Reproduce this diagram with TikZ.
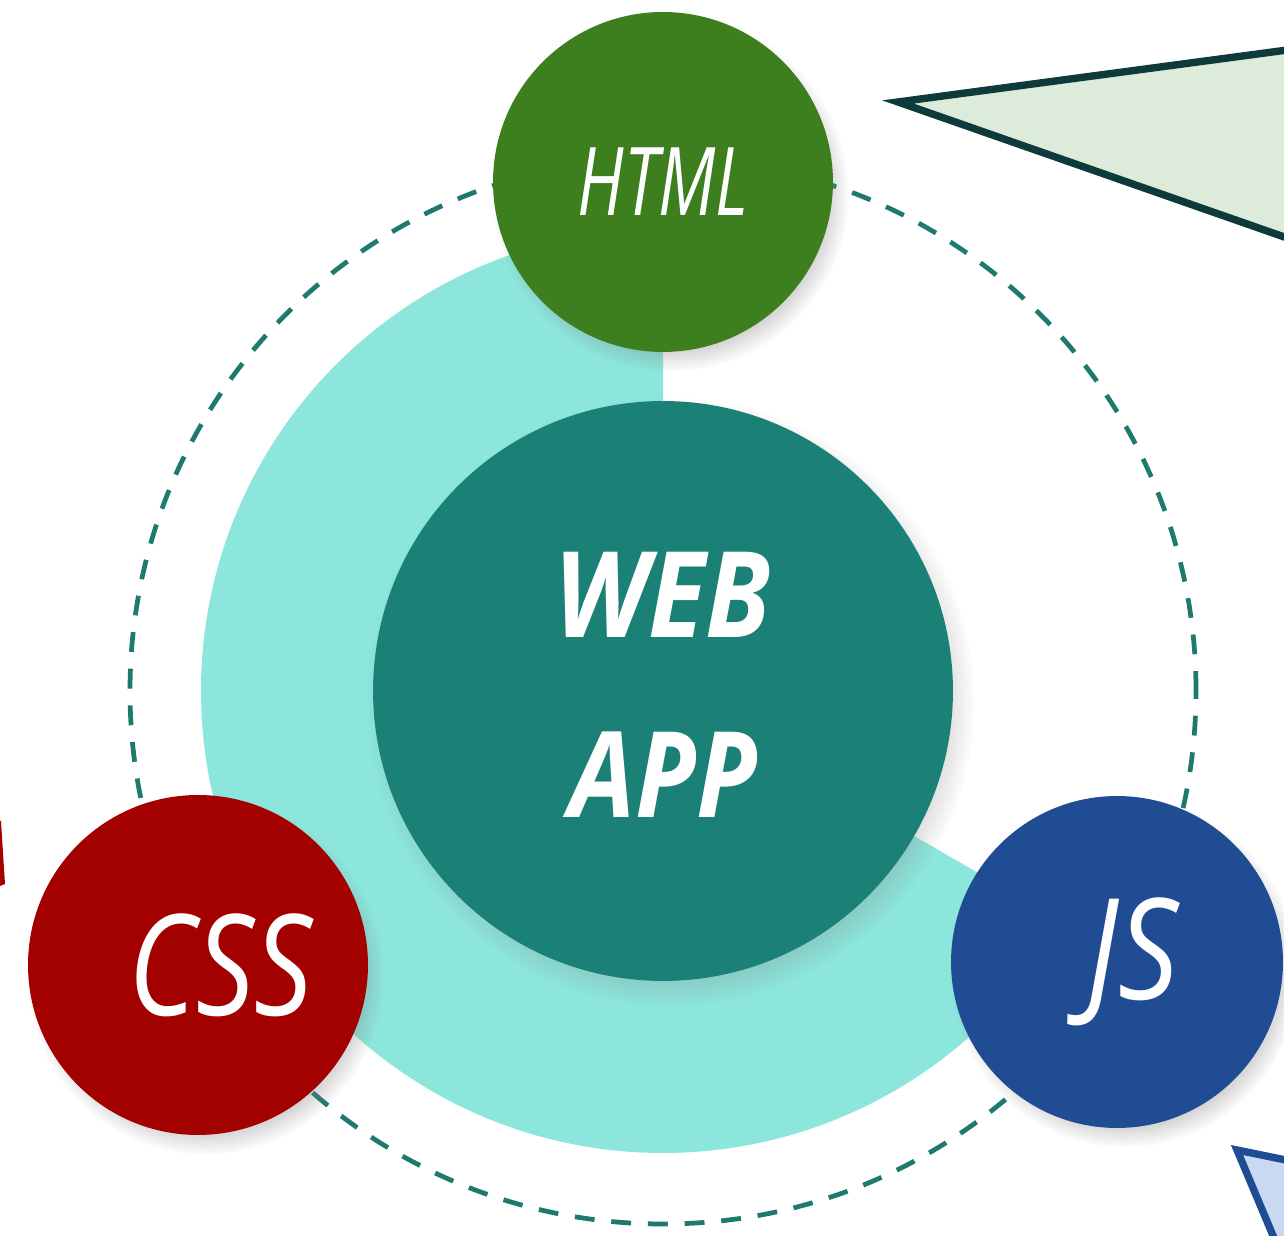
\documentclass[tikz,border=0pt]{standalone}
\usepackage{fontspec}
\setmainfont{Open Sans}
\usetikzlibrary{shadows}
\definecolor{htmlgreen}{HTML}{3D7E1E}
\definecolor{cssred}{HTML}{A30000}
\definecolor{jsblue}{HTML}{1F4C93}
\definecolor{webteal}{HTML}{1B8177}
\definecolor{ringcyan}{HTML}{8CE6DC}
\definecolor{dashteal}{HTML}{1E7A6E}
\definecolor{tridark}{HTML}{0E3A3C}
\definecolor{trifill}{HTML}{DCEBDA}
\definecolor{bluefill}{HTML}{C9D9F2}
\begin{document}
\begin{tikzpicture}[x=0.02cm,y=0.02cm,
  bubble/.style={circle, inner sep=0pt, text=white,
    circular drop shadow={shadow xshift=4pt, shadow yshift=-6pt, shadow scale=1.05, opacity=0.4}},
  pointer/.style={line width=4.2pt, line join=miter},
]
\useasboundingbox (0,0) rectangle (1284,1236);
\clip (0,0) rectangle (1284,1236);
\fill[white] (0,0) rectangle (1284,1236);
\coordinate (C) at (663,545);
% dashed orbit
\draw[dashteal, line width=2.7pt, dash pattern=on 11.3pt off 9.6pt] (C) circle[radius=533];
% cyan ring sector
\fill[ringcyan] (C) -- ++(90:462) arc[start angle=90, end angle=330, radius=462] -- cycle;
% pointers at edges
\coordinate (tA) at (898,1134);
\filldraw[pointer, fill=trifill, draw=tridark] (1310,1189) -- (tA) -- (1310,990) -- cycle;
\coordinate (bA) at (1237,86);
\filldraw[pointer, fill=bluefill, draw=jsblue] (1310,71) -- (bA) -- (1290,-40) -- cycle;
\fill[cssred] (-5,415) -- (1,415) -- (5,352) -- (-5,348) -- cycle;
% circles
\node[bubble, fill=webteal, minimum size=11.6cm] (web) at (C)
  {\fontsize{68}{104}\selectfont\bfseries\itshape\begin{tabular}{c}\scalebox{0.88}[1]{WEB}\\[-2pt]\scalebox{0.88}[1]{APP}\end{tabular}};
\node[bubble, fill=htmlgreen, minimum size=6.8cm] (html) at (663,1054)
  {\fontsize{54}{60}\selectfont\itshape\scalebox{0.72}[1]{HTML}};
\node[bubble, fill=cssred, minimum size=6.8cm] (css) at (198,271)
  {\hspace*{26pt}\fontsize{80}{84}\selectfont\itshape\scalebox{0.82}[1]{CSS}};
\node[bubble, fill=jsblue, minimum size=6.64cm] (js) at (1117,274)
  {\hspace*{18pt}\fontsize{80}{84}\selectfont\itshape\scalebox{0.85}[1]{JS}};
\end{tikzpicture}
\end{document}
